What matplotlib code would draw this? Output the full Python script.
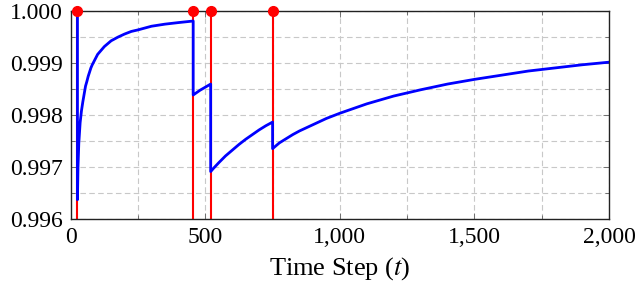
import matplotlib
matplotlib.use("Agg")
import matplotlib.pyplot as plt
from matplotlib.ticker import FixedLocator, FixedFormatter, MultipleLocator

plt.rcParams['font.family'] = ['Liberation Serif', 'DejaVu Serif']
plt.rcParams['mathtext.fontset'] = 'stix'

# Blue curve (time step, value)
t_vals = [0, 25, 25, 27, 30, 35, 40, 45, 50, 55, 60, 65, 70, 75, 80, 90, 100, 110, 125, 150, 175,
          200, 225, 250, 300, 350, 400, 455,
          455, 480, 500, 520,
          520, 530, 550, 575, 600, 625, 650, 675, 700, 725, 750,
          750, 775, 800, 825, 850, 900, 950, 1000, 1100, 1200, 1300, 1400, 1500, 1600, 1700,
          1800, 1900, 2000]
y_vals = [1.0, 1.0, 0.99637, 0.99700, 0.99745, 0.99785, 0.99808, 0.99825, 0.99840, 0.99855,
          0.99864, 0.99874, 0.99882, 0.99890, 0.99896, 0.99906, 0.99916, 0.99922, 0.99931,
          0.99942, 0.99949, 0.99955, 0.99960, 0.99963, 0.99970, 0.99974, 0.99977, 0.99980,
          0.99838, 0.99847, 0.99853, 0.99859,
          0.99691, 0.99697, 0.99708, 0.99721, 0.99732, 0.99743, 0.99753, 0.99762, 0.99771,
          0.99779, 0.99786,
          0.99735, 0.99746, 0.99754, 0.99762, 0.99769, 0.99781, 0.99793, 0.99803, 0.99821,
          0.99836, 0.99848, 0.99859, 0.99868, 0.99876, 0.99884, 0.99890, 0.99896, 0.99901]

# Red event stems
event_t = [25, 455, 520, 750]
event_y = [1.0, 1.0, 1.0, 1.0]

x_ticks = [0, 500, 1000, 1500, 2000]
x_tick_labels = ['0', '500', '1,000', '1,500', '2,000']
y_ticks = [0.996, 0.997, 0.998, 0.999, 1.000]
y_tick_labels = ['0.996', '0.997', '0.998', '0.999', '1.000']

fig = plt.figure(figsize=(6.4, 2.93), dpi=100)
ax = fig.add_axes([0.1105, 0.2526, 0.8411, 0.7112])

ymin, ymax = 0.996, 1.000
ax.vlines(event_t, ymin, event_y, colors='#ff0000', linewidth=1.5, zorder=3)
ax.plot(t_vals, y_vals, color='#0000ff', linewidth=2.0, zorder=4, solid_joinstyle='round')
ax.plot(event_t, event_y, 'o', color='#ff0000', markersize=7, zorder=6, clip_on=False)

ax.set_xlim(0, 2000)
ax.set_ylim(ymin, ymax)

ax.xaxis.set_major_locator(FixedLocator(x_ticks))
ax.xaxis.set_major_formatter(FixedFormatter(x_tick_labels))
ax.yaxis.set_major_locator(FixedLocator(y_ticks))
ax.yaxis.set_major_formatter(FixedFormatter(y_tick_labels))
ax.xaxis.set_minor_locator(MultipleLocator(250))
ax.yaxis.set_minor_locator(MultipleLocator(0.0005))

ax.grid(True, which='both', color='#c8c8c8', linestyle=(0, (5, 3)), linewidth=0.8)
ax.set_axisbelow(True)

ax.tick_params(which='both', direction='in', top=True, right=True, color='#606060',
               width=0.6, labelsize=17)
ax.tick_params(which='major', length=4, pad=6)
ax.tick_params(which='minor', length=3)

for s in ax.spines.values():
    s.set_linewidth(1.0)
    s.set_color('#222222')
    s.set_zorder(5)

ax.set_xlabel('Time Step ($t$)', fontsize=19, labelpad=5)

fig.savefig('out.png', dpi=100)
